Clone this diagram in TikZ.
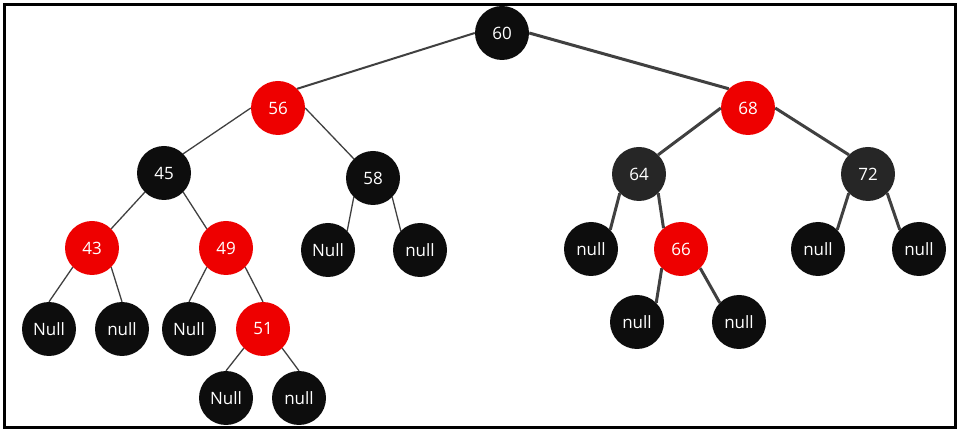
\documentclass[tikz,border=0pt]{standalone}
\usepackage{fontspec}
\setmainfont{Open Sans}
\definecolor{nblack}{HTML}{0D0D0D}
\definecolor{ngray}{HTML}{262626}
\definecolor{nred}{HTML}{EE0000}
\definecolor{edge}{HTML}{404040}
\begin{document}
\begin{tikzpicture}[x=1pt,y=-1pt,
  rb/.style={circle,minimum size=54pt,inner sep=0pt,text=white,font=\fontsize{17}{17}\selectfont},
  bk/.style={rb,fill=nblack},
  gy/.style={rb,fill=ngray},
  rd/.style={rb,fill=nred},
  thin/.style={draw=edge,line width=1.3pt},
  mid/.style={draw=edge,line width=2pt},
  thick/.style={draw=edge,line width=3pt}]
\useasboundingbox (0,0) rectangle (964,435);
\draw[line width=3pt] (4,5) rectangle (955,428);
\node[bk] (n60) at (502,33) {60};
\node[rd] (n56) at (278,108) {56};
\node[rd] (n68) at (748,108) {68};
\node[bk] (n45) at (164,173) {45};
\node[bk] (n58) at (373,178) {58};
\node[gy] (n64) at (639,174) {64};
\node[gy] (n72) at (868,174) {72};
\node[rd] (n43) at (92,248) {43};
\node[rd] (n49) at (226,248) {49};
\node[bk] (n58l) at (328,250) {Null};
\node[bk] (n58r) at (420,250) {null};
\node[bk] (n64l) at (591,249) {null};
\node[rd] (n66) at (681,249) {66};
\node[bk] (n72l) at (818,249) {null};
\node[bk] (n72r) at (919,249) {null};
\node[bk] (n43l) at (49,329) {Null};
\node[bk] (n43r) at (122,329) {null};
\node[bk] (n49l) at (189,329) {Null};
\node[rd] (n51) at (263,329) {51};
\node[bk] (n51l) at (226,398) {Null};
\node[bk] (n51r) at (299,398) {null};
\node[bk] (n66l) at (637,322) {null};
\node[bk] (n66r) at (739,322) {null};
\draw[mid] (n60.west) -- (n56.45);
\draw[thick] (n60.east) -- (n68.135);
\draw[thin] (n56.west) -- (n45.45);
\draw[thin] (n56.east) -- (n58.135);
\draw[thin] (n45.225) -- (n43.45);
\draw[thin] (n45.315) -- (n49.135);
\draw[thin] (n43.225) -- (n43l.north);
\draw[thin] (n43.315) -- (n43r.north);
\draw[thin] (n49.225) -- (n49l.north);
\draw[thin] (n49.315) -- (n51.north);
\draw[thin] (n51.225) -- (n51l.north);
\draw[thin] (n51.315) -- (n51r.north);
\draw[thin] (n58.225) -- (n58l.45);
\draw[thin] (n58.315) -- (n58r.135);
\draw[thick] (n68.west) -- (n64.45);
\draw[thick] (n68.east) -- (n72.135);
\draw[thick] (n64.225) -- (n64l.45);
\draw[thick] (n64.315) -- (n66.130);
\draw[thick] (n66.225) -- (n66l.45);
\draw[thick] (n66.315) -- (n66r.135);
\draw[thick] (n72.225) -- (n72l.45);
\draw[thick] (n72.315) -- (n72r.135);
\end{tikzpicture}
\end{document}
